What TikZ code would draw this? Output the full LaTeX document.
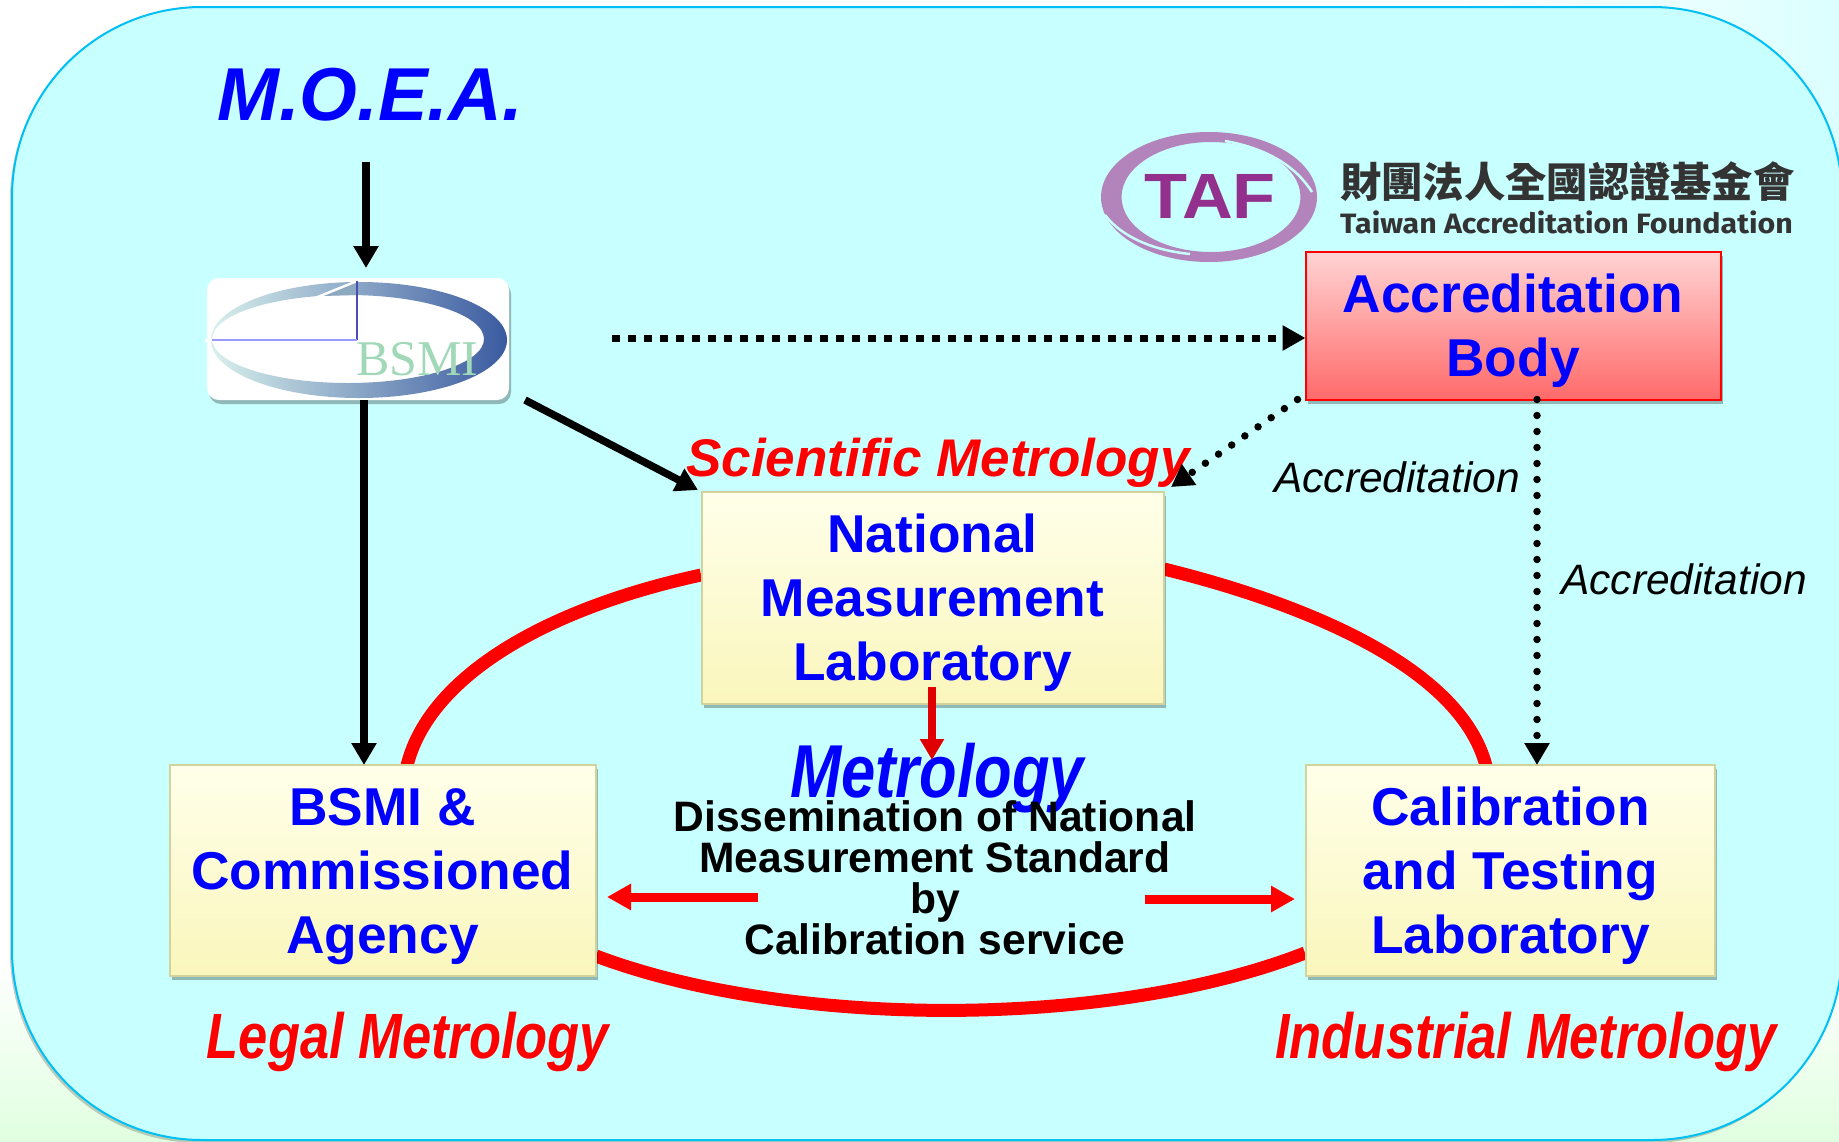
\documentclass[tikz,border=0pt]{standalone}
\usepackage{fontspec}
\setmainfont{Liberation Sans}
\newfontfamily\cjkfont{Noto Sans CJK TC}
\newfontfamily\tafen{Fira Sans}
\newfontfamily\bsmifont{Liberation Serif}
\usetikzlibrary{arrows.meta,shadows,calc}
\newcommand\fsz[2]{\fontsize{#1}{#2}\selectfont}
\definecolor{panelfill}{HTML}{C8FFFF}
\definecolor{panelline}{HTML}{00BFF5}
\definecolor{tafring}{HTML}{B384BC}
\definecolor{tafletter}{HTML}{93308E}
\definecolor{darkred}{HTML}{E00000}
\definecolor{boxedge}{HTML}{D2D29C}
\definecolor{boxtop}{HTML}{FFFFEA}
\definecolor{boxbot}{HTML}{FAF6BC}
\definecolor{redtop}{HTML}{FFD4D4}
\definecolor{redbot}{HTML}{FF6A6A}
\definecolor{swoopl}{HTML}{D8F0EC}
\definecolor{swoopm}{HTML}{8FC4F0}
\definecolor{swoopr}{HTML}{3A5AA0}
\definecolor{bsmigreen}{HTML}{A0D8B8}
\tikzset{
  softshadow/.style={drop shadow={shadow xshift=2pt,shadow yshift=-4pt,fill=black,opacity=.28}},
  yellowbox/.style={draw=boxedge,line width=2pt,top color=boxtop,bottom color=boxbot,softshadow,
    align=center,inner sep=0pt,outer sep=0pt,text=blue,font=\bfseries\fsz{53.3}{64},text depth=0pt},
  redbox/.style={draw=red,line width=2pt,top color=redtop,bottom color=redbot,softshadow,
    align=center,inner sep=0pt,outer sep=0pt,text=blue,font=\bfseries\fsz{53.3}{64},text depth=0pt},
  blackarrow/.style={line width=7.5pt,black,-{Triangle[length=22pt,width=24pt]}},
  squaredots/.style={line width=7pt,black,dash pattern=on 8pt off 8pt,-{Triangle[length=23pt,width=24pt]}},
  rounddots/.style={line width=7.5pt,black,line cap=round,dash pattern=on 0pt off 16pt,-{Triangle[length=22pt,width=24pt]}},
  redarrow/.style={line width=9pt,red,-{Triangle[length=24pt,width=25pt]}},
  redarc/.style={line width=13pt,red},
  redtitle/.style={text=red,font=\bfseries\itshape\fsz{64}{64},anchor=base,inner sep=0pt,xscale=.82,transform shape},
  acclabel/.style={text=black,font=\itshape\fsz{42.5}{42.5},anchor=base,inner sep=0pt},
}
\begin{document}
\begin{tikzpicture}[x=1pt,y=-1pt]
\useasboundingbox (0,0) rectangle (1839,1141);
\clip (0,0) rectangle (1839,1141);
% backdrop
\fill[white] (0,0) rectangle (1839,1141);
\shade[top color=white,bottom color=green!12!white] (0,960) rectangle (1839,1141);
\shade[left color=white,right color=cyan!14!white] (1450,0) rectangle (1839,220);
% panel
\draw[panelline,line width=2pt,fill=panelfill,rounded corners=190pt,
  drop shadow={shadow xshift=-2pt,shadow yshift=-3pt,fill=black,opacity=.2}]
  (12,7) rectangle (1842,1140);

% TAF logo
\fill[tafring,even odd rule] (1209,197) ellipse [x radius=108,y radius=65]
      (1211,197) ellipse [x radius=89.5,y radius=55];
\draw[panelfill,line width=2.5pt] (1225,141) .. controls (1265,148) and (1295,165) .. (1312,192);
\draw[panelfill,line width=2.5pt] (1105,215) .. controls (1120,235) and (1150,250) .. (1190,254);
\node[text=tafletter,font=\bfseries\fsz{64}{64},anchor=base,inner sep=0pt,xscale=1.1,transform shape] (taf) at (1210,218) {TAF};
\node[text=black!80,font=\cjkfont\bfseries\fsz{41.3}{41.3},anchor=base west,inner sep=0pt] (tafzh) at (1340,197) {財團法人全國認證基金會};
\node[text=black!80,font=\tafen\bfseries\fsz{28}{28},anchor=base west,inner sep=0pt,xscale=1.085,transform shape] (tafen) at (1340,233) {Taiwan Accreditation Foundation};

% BSMI logo
\node[draw=none,fill=white,rounded corners=12pt,minimum width=302pt,minimum height=122pt,inner sep=0pt,outer sep=0pt,softshadow] (logo) at (358,339) {};
\shade[even odd rule,left color=swoopl,middle color=swoopm,right color=swoopr]
  (359,340) ellipse [x radius=148,y radius=58]
  (348,339) ellipse [x radius=136,y radius=44];
\fill[blue!45!cyan!45!black!45!white] (357,282) -- (357,295) -- (322,296) -- cycle;
\fill[white] (205,338.5) rectangle (357,341.5);
\draw[white,line width=2.5pt] (212,340) -- (357,281);
\draw[blue!60!black!70!white,line width=1.5pt] (357,281) -- (357,340);
\draw[blue!40!white,line width=1.5pt] (357,340) -- (212,340);
\node[text=bsmigreen,font=\bsmifont\fsz{50}{50},anchor=base west,inner sep=0pt] (bsmilogo) at (356,375) {BSMI};

% metrology ring
\coordinate (arcA) at (701,575);
\coordinate (arcB) at (406,770);
\coordinate (arcC) at (1164,569);
\coordinate (arcD) at (1487,770);
\coordinate (arcE) at (596,956);
\coordinate (arcF) at (1305,953);
\draw[redarc] (arcA) .. controls (540,610) and (425,680) .. (arcB);
\draw[redarc] (arcC) .. controls (1310,605) and (1465,670) .. (arcD);
\draw[redarc] (arcE) .. controls (790,1029) and (1110,1029) .. (arcF);

% boxes
\node[yellowbox,minimum width=462pt,minimum height=212pt,xshift=0pt] (nml) at (932.5,597.5) {National\\Measurement\\Laboratory};
\node[yellowbox,minimum width=426pt,minimum height=211pt] (bsmi) at (382.5,870.5) {BSMI \&\\Commissioned\\Agency};
\node[yellowbox,minimum width=409pt,minimum height=211pt] (cal) at (1510.5,870.5) {Calibration\\and Testing\\Laboratory};
\node[redbox,minimum width=415pt,minimum height=148pt] (ab) at (1513,325.5) {Accreditation\\Body};

% titles
\node[text=blue,font=\bfseries\itshape\fsz{75}{75},anchor=base,inner sep=0pt,xscale=.99,transform shape] (moea) at (370,120) {M.O.E.A.};
\node[text=red,font=\bfseries\itshape\fsz{53}{53},anchor=base,inner sep=0pt] (sci) at (938,476) {Scientific Metrology};
\node[redtitle] (legal) at (408,1058) {Legal Metrology};
\node[redtitle] (indus) at (1526,1058) {Industrial Metrology};
\node[text=blue,font=\bfseries\itshape\fsz{75}{75},anchor=base,inner sep=0pt,xscale=.82,transform shape] (metro) at (937,797) {Metrology};
\node[font=\bfseries\fsz{42.6}{41},align=center,inner sep=0pt] (diss) at (935,878) {Dissemination of National\\Measurement Standard\\by\\Calibration service};
\node[acclabel] (acc1) at (1397,492) {Accreditation};
\node[acclabel] (acc2) at (1684,594) {Accreditation};

% connectors
\coordinate (moeaS) at (366,162);
\coordinate (logoN) at (366,268);
\draw[blackarrow] (moeaS) -- (logoN);
\draw[blackarrow] (logo.south -| 364,0) -- (bsmi.north -| 364,0);
\coordinate (logoE) at (525,400);
\draw[blackarrow] (logoE) -- (698,490);
\coordinate (dotS) at (612,338);
\draw[squaredots] (dotS) -- (ab.west |- dotS);
\draw[rounddots] (ab.south west) ++(-8,0) -- (1171,487);
\draw[rounddots] (ab.south -| 1537,0) -- (cal.north -| 1537,0);
\coordinate (nmlS) at (932,687);
\coordinate (metroN) at (932,760);
\draw[line width=8pt,darkred,-{Triangle[length=21pt,width=23pt]}] (nmlS) -- (metroN);
\coordinate (leftS) at (758,897);
\coordinate (leftE) at (607,897);
\coordinate (rightS) at (1145,899);
\coordinate (rightE) at (1295,899);
\draw[redarrow] (leftS) -- (leftE);
\draw[redarrow] (rightS) -- (rightE);
\end{tikzpicture}
\end{document}
